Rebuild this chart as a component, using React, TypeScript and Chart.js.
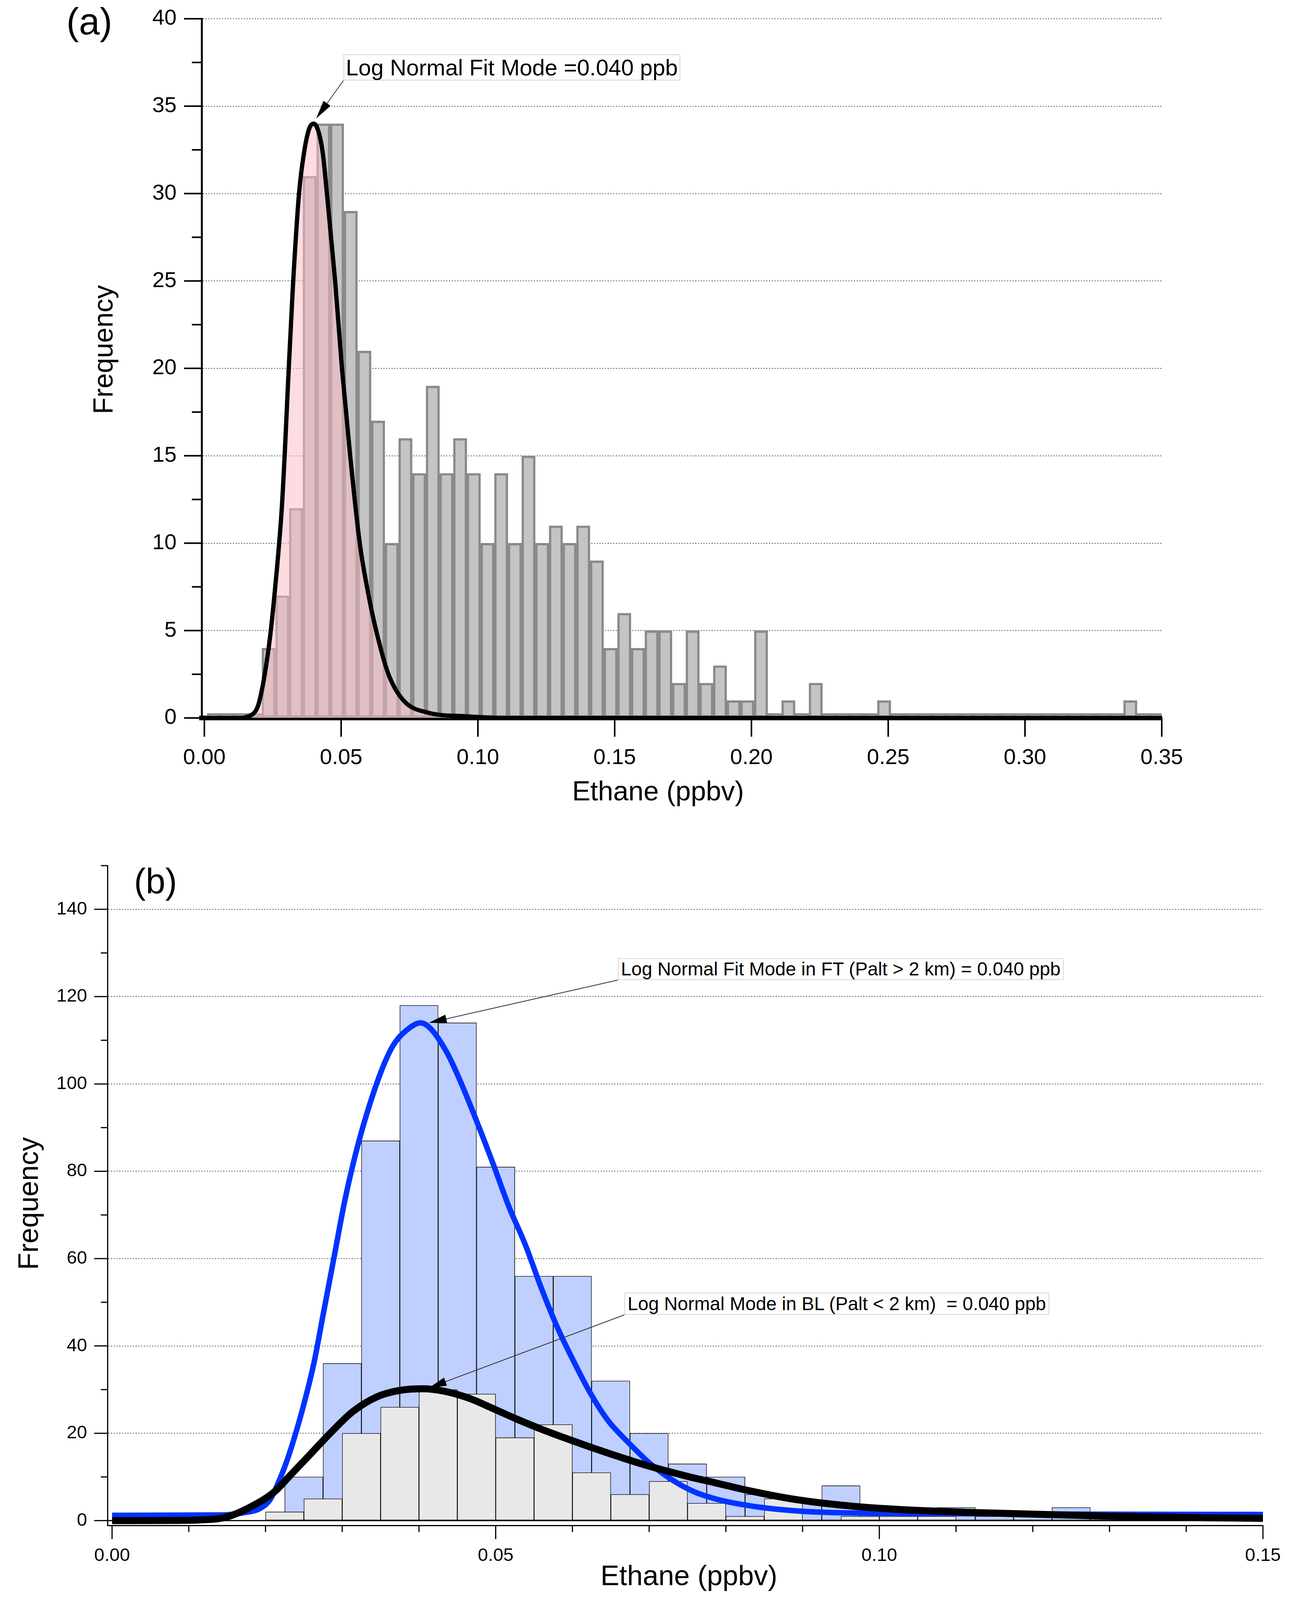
import React, { useEffect, useRef } from 'react';
import { Chart, registerables } from 'chart.js';

Chart.register(...registerables);

const FONT = "'Liberation Sans', Arial, Helvetica, sans-serif";

// ---------------- Panel (a) data ----------------
const binCentersA = [
  0.0035, 0.0085, 0.0135, 0.0185, 0.0235, 0.0285, 0.0335, 0.0385, 0.0435, 0.0485,
  0.0535, 0.0585, 0.0635, 0.0685, 0.0735, 0.0785, 0.0835, 0.0885, 0.0935, 0.0985,
  0.1035, 0.1085, 0.1135, 0.1185, 0.1235, 0.1285, 0.1335, 0.1385, 0.1435, 0.1485,
  0.1535, 0.1585, 0.1635, 0.1685, 0.1735, 0.1785, 0.1835, 0.1885, 0.1935, 0.1985,
  0.2035, 0.2085, 0.2135, 0.2185, 0.2235, 0.2285, 0.2335, 0.2385, 0.2435, 0.2485,
  0.2535, 0.2585, 0.2635, 0.2685, 0.2735, 0.2785, 0.2835, 0.2885, 0.2935, 0.2985,
  0.3035, 0.3085, 0.3135, 0.3185, 0.3235, 0.3285, 0.3335, 0.3385, 0.3435, 0.3485,
];
const countsA = [
  0, 0, 0, 0, 4, 7, 12, 31, 34, 34,
  29, 21, 17, 10, 16, 14, 19, 14, 16, 14,
  10, 14, 10, 15, 10, 11, 10, 11, 9, 4,
  6, 4, 5, 5, 2, 5, 2, 3, 1, 1,
  5, 0, 1, 0, 2, 0, 0, 0, 0, 1,
  0, 0, 0, 0, 0, 0, 0, 0, 0, 0,
  0, 0, 0, 0, 0, 0, 0, 1, 0, 0,
];
const fitXA = [0, 0.012, 0.0175, 0.02, 0.0235, 0.0256, 0.0283, 0.0295, 0.0306, 0.0323, 0.0346, 0.0365, 0.0383, 0.04, 0.0418, 0.0433, 0.0448, 0.0478, 0.0503, 0.0533, 0.0568, 0.0598, 0.0628, 0.0673, 0.0728, 0.0818, 0.095, 0.11, 0.35];
const fitYA = [0, 0, 0.2, 0.9, 4.0, 7.0, 12.0, 15.5, 19.2, 24.5, 30.0, 32.4, 33.7, 34.0, 33.5, 32.3, 30.0, 25.0, 20.0, 15.0, 10.0, 7.2, 5.0, 2.5, 1.0, 0.3, 0.1, 0, 0];
const xTicksA = [0, 0.05, 0.1, 0.15, 0.2, 0.25, 0.3, 0.35];
const xTickLabelsA = ['0.00', '0.05', '0.10', '0.15', '0.20', '0.25', '0.30', '0.35'];
const yTicksA = [0, 5, 10, 15, 20, 25, 30, 35, 40];
const yTickLabelsA = ['0', '5', '10', '15', '20', '25', '30', '35', '40'];
const yMinorA = [2.5, 7.5, 12.5, 17.5, 22.5, 27.5, 32.5, 37.5];

// ---------------- Panel (b) data ----------------
const binCentersFT = [0.025, 0.03, 0.035, 0.04, 0.045, 0.05, 0.055, 0.06, 0.065, 0.07, 0.075, 0.08, 0.085, 0.09, 0.095, 0.1, 0.105, 0.11, 0.115, 0.12, 0.125, 0.13, 0.135, 0.14, 0.145, 0.15];
const countsFT = [10, 36, 87, 118, 114, 81, 56, 56, 32, 20, 13, 10, 6, 4, 8, 3, 1, 3, 1, 1, 3, 1, 1, 1, 2, 1];
const binCentersBL = [0.0225, 0.0275, 0.0325, 0.0375, 0.0425, 0.0475, 0.0525, 0.0575, 0.0625, 0.0675, 0.0725, 0.0775, 0.0825, 0.0875, 0.0925, 0.0975, 0.1025, 0.1075, 0.1125, 0.1175, 0.1225, 0.1275, 0.1325, 0.1375, 0.1425, 0.1475];
const countsBL = [2, 5, 20, 26, 30, 29, 19, 22, 11, 6, 9, 4, 1, 5, 0, 1, 1, 1, 0, 0, 0, 0, 0, 0, 0, 0];
const fitXFT = [0, 0.0145, 0.0175, 0.0192, 0.0206, 0.0215, 0.0225, 0.0235, 0.0249, 0.0263, 0.0276, 0.0289, 0.0303, 0.0316, 0.033, 0.0351, 0.0367, 0.0389, 0.0402, 0.0415, 0.0437, 0.0453, 0.0474, 0.0496, 0.0517, 0.0539, 0.056, 0.0581, 0.0603, 0.0624, 0.0646, 0.0675, 0.0703, 0.0732, 0.076, 0.0788, 0.0817, 0.0851, 0.0902, 0.0959, 0.1073, 0.1187, 0.15];
const fitYFT = [1.2, 1.3, 1.9, 2.7, 4.8, 8.0, 12.3, 17.5, 26, 36, 48, 60, 73, 83, 92, 103, 109, 113, 114, 112.7, 107, 101, 92, 82, 72, 63, 53, 44, 36, 29, 23, 17.5, 12.8, 9.1, 6.5, 4.9, 3.8, 2.9, 2.1, 1.76, 1.6, 1.5, 1.4];
const fitXBL = [0, 0.0088, 0.0114, 0.0147, 0.0179, 0.0211, 0.0233, 0.026, 0.0287, 0.0314, 0.0346, 0.0378, 0.0405, 0.0431, 0.0464, 0.0496, 0.0528, 0.056, 0.0592, 0.0624, 0.0656, 0.0688, 0.072, 0.0753, 0.0785, 0.0821, 0.0885, 0.0953, 0.1021, 0.113, 0.13, 0.15];
const fitYBL = [0, 0.05, 0.15, 0.7, 3.0, 6.5, 10.5, 15.5, 20.5, 25.0, 28.4, 29.9, 30.2, 29.7, 28.1, 25.7, 23.2, 20.9, 18.8, 16.8, 14.9, 13.1, 11.5, 10.0, 8.7, 7.2, 5.0, 3.5, 2.6, 1.8, 1.0, 0.5];
const xTicksB = [0, 0.05, 0.1, 0.15];
const xTickLabelsB = ['0.00', '0.05', '0.10', '0.15'];
const xMinorB = [0.01, 0.02, 0.03, 0.04, 0.06, 0.07, 0.08, 0.09, 0.11, 0.12, 0.13, 0.14];
const yTicksB = [0, 20, 40, 60, 80, 100, 120, 140];
const yTickLabelsB = ['0', '20', '40', '60', '80', '100', '120', '140'];
const yMinorB = [10, 30, 50, 70, 90, 110, 130, 150];

type TickOpts = {
  xMajor: number[]; xMinor: number[]; yMajor: number[]; yMinor: number[];
  xMajorLen: number; xMinorLen: number; yMajorLen: number; yMinorLen: number;
  width: number; zeroLine?: number;
};

function axisTicksPlugin(o: TickOpts) {
  return {
    id: 'axisTicks',
    beforeDatasetsDraw(chart: any) {
      if (!o.zeroLine) return;
      const { ctx, chartArea, scales } = chart;
      const y = scales.y.getPixelForValue(0);
      ctx.save();
      ctx.strokeStyle = '#000';
      ctx.lineWidth = o.zeroLine;
      ctx.beginPath();
      ctx.moveTo(chartArea.left, y);
      ctx.lineTo(chartArea.right, y);
      ctx.stroke();
      ctx.restore();
    },
    afterDraw(chart: any) {
      const { ctx, chartArea, scales } = chart;
      ctx.save();
      ctx.strokeStyle = '#000';
      ctx.lineWidth = o.width;
      ctx.lineCap = 'butt';
      const seg = (x1: number, y1: number, x2: number, y2: number) => {
        ctx.beginPath();
        ctx.moveTo(x1, y1);
        ctx.lineTo(x2, y2);
        ctx.stroke();
      };
      o.xMajor.forEach((v) => {
        const x = scales.x.getPixelForValue(v);
        seg(x, chartArea.bottom, x, chartArea.bottom + o.xMajorLen);
      });
      o.xMinor.forEach((v) => {
        const x = scales.x.getPixelForValue(v);
        seg(x, chartArea.bottom, x, chartArea.bottom + o.xMinorLen);
      });
      o.yMajor.forEach((v) => {
        const y = scales.y.getPixelForValue(v);
        seg(chartArea.left, y, chartArea.left - o.yMajorLen, y);
      });
      o.yMinor.forEach((v) => {
        const y = scales.y.getPixelForValue(v);
        seg(chartArea.left, y, chartArea.left - o.yMinorLen, y);
      });
      ctx.restore();
    },
  };
}

type ArrowSpec = { from: [number, number]; datasetIndex: number; dx: number; dy: number; head: number; half: number };

function arrowPlugin(arrows: ArrowSpec[]) {
  return {
    id: 'arrows',
    afterDatasetsDraw(chart: any) {
      const { ctx } = chart;
      arrows.forEach((a) => {
        const meta = chart.getDatasetMeta(a.datasetIndex);
        const data = chart.data.datasets[a.datasetIndex].data as { x: number; y: number }[];
        let best = data[0];
        data.forEach((p) => { if (p.y > best.y) best = p; });
        const xs = chart.scales[meta.xAxisID];
        const ys = chart.scales[meta.yAxisID];
        const tx = xs.getPixelForValue(best.x) + a.dx;
        const ty = ys.getPixelForValue(best.y) + a.dy;
        const [fx, fy] = a.from;
        const ang = Math.atan2(ty - fy, tx - fx);
        const bx = tx - a.head * Math.cos(ang);
        const by = ty - a.head * Math.sin(ang);
        ctx.save();
        ctx.strokeStyle = '#333';
        ctx.lineWidth = 2;
        ctx.beginPath();
        ctx.moveTo(fx, fy);
        ctx.lineTo(bx, by);
        ctx.stroke();
        ctx.fillStyle = '#000';
        ctx.beginPath();
        ctx.moveTo(tx, ty);
        ctx.lineTo(bx + a.half * Math.sin(ang), by - a.half * Math.cos(ang));
        ctx.lineTo(bx - a.half * Math.sin(ang), by + a.half * Math.cos(ang));
        ctx.closePath();
        ctx.fill();
        ctx.restore();
      });
    },
  };
}

const gridColor = (c: any) => (c.tick && c.tick.value === 0 ? 'rgba(0,0,0,0)' : '#5a5a5a');

const fixY = (w: number) => (s: any) => {
  s.width = w;
  s.paddingTop = 0;
  s.paddingBottom = 0;
  s.paddingLeft = 0;
  s.paddingRight = 0;
};
const fixX = (h: number) => (s: any) => {
  s.height = h;
  s.paddingTop = 0;
  s.paddingBottom = 0;
  s.paddingLeft = 0;
  s.paddingRight = 0;
};

function configA(): any {
  return {
    type: 'bar',
    data: {
      datasets: [
        {
          type: 'bar',
          label: 'Ethane',
          data: binCentersA.map((x, i) => ({ x, y: countsA[i] })),
          backgroundColor: '#c4c4c4',
          borderColor: '#8a8a8a',
          borderWidth: 6,
          borderSkipped: false,
          barPercentage: 1,
          categoryPercentage: 1,
          minBarLength: 12,
          grouped: false,
          clip: 0,
          order: 2,
        },
        {
          type: 'line',
          label: 'Log Normal Fit',
          data: fitXA.map((x, i) => ({ x, y: fitYA[i] })),
          borderColor: '#000',
          borderWidth: 11,
          pointRadius: 0,
          fill: 'origin',
          backgroundColor: 'rgba(250,188,196,0.52)',
          cubicInterpolationMode: 'monotone',
          order: 1,
        },
      ],
    },
    options: {
      responsive: false,
      animation: false,
      devicePixelRatio: 1,
      events: [],
      layout: { padding: { left: 0, top: 48, right: 341, bottom: 0 } },
      plugins: { legend: { display: false }, tooltip: { enabled: false } },
      scales: {
        x: {
          type: 'linear', min: -0.001, max: 0.35, offset: false,
          grid: { display: false, offset: false, drawTicks: false },
          border: { display: true, color: '#000', width: 12 },
          ticks: {
            autoSkip: false, maxRotation: 0, minRotation: 0, padding: 69, color: '#000',
            font: { family: FONT, size: 56 },
            callback: (_v: any, i: number) => xTickLabelsA[i] ?? '',
          },
          afterBuildTicks: (s: any) => { s.ticks = xTicksA.map((v) => ({ value: v })); },
          afterFit: fixX(312),
        },
        y: {
          type: 'linear', min: 0, max: 40,
          grid: { drawTicks: false, color: gridColor, lineWidth: 2 },
          border: { display: true, color: '#000', width: 5, dash: [3, 4] },
          ticks: {
            autoSkip: false, padding: 64, color: '#000',
            font: { family: FONT, size: 56 },
            callback: (_v: any, i: number) => yTickLabelsA[i] ?? '',
          },
          afterBuildTicks: (s: any) => { s.ticks = yTicksA.map((v) => ({ value: v })); },
          afterFit: fixY(516),
        },
      },
    },
    plugins: [
      axisTicksPlugin({
        xMajor: xTicksA, xMinor: [], yMajor: yTicksA, yMinor: yMinorA,
        xMajorLen: 48, xMinorLen: 24, yMajorLen: 45, yMinorLen: 25, width: 4,
      }),
      arrowPlugin([{ from: [879, 206], datasetIndex: 1, dx: 6, dy: -13, head: 48, half: 11 }]),
    ],
  };
}

function configB(): any {
  return {
    type: 'bar',
    data: {
      datasets: [
        {
          type: 'bar',
          label: 'FT (Palt > 2 km)',
          xAxisID: 'x',
          data: binCentersFT.map((x, i) => ({ x, y: countsFT[i] })),
          backgroundColor: '#bfcfff',
          borderColor: '#000',
          borderWidth: 1.5,
          borderSkipped: false,
          barPercentage: 1,
          categoryPercentage: 1,
          grouped: false,
          clip: 0,
          order: 4,
        },
        {
          type: 'bar',
          label: 'BL (Palt < 2 km)',
          xAxisID: 'x2',
          data: binCentersBL.map((x, i) => ({ x, y: countsBL[i] })),
          backgroundColor: '#e8e8e8',
          borderColor: '#000',
          borderWidth: 1.5,
          borderSkipped: false,
          barPercentage: 1,
          categoryPercentage: 1,
          grouped: false,
          clip: 0,
          order: 3,
        },
        {
          type: 'line',
          label: 'Log Normal Fit FT',
          xAxisID: 'x',
          data: fitXFT.map((x, i) => ({ x, y: fitYFT[i] })),
          borderColor: '#0033ff',
          borderWidth: 14,
          pointRadius: 0,
          fill: false,
          cubicInterpolationMode: 'monotone',
          order: 2,
        },
        {
          type: 'line',
          label: 'Log Normal Fit BL',
          xAxisID: 'x',
          data: fitXBL.map((x, i) => ({ x, y: fitYBL[i] })),
          borderColor: '#000',
          borderWidth: 18,
          pointRadius: 0,
          fill: false,
          cubicInterpolationMode: 'monotone',
          order: 1,
        },
      ],
    },
    options: {
      responsive: false,
      animation: false,
      devicePixelRatio: 1,
      events: [],
      layout: { padding: { left: 0, top: 66, right: 82, bottom: 0 } },
      plugins: { legend: { display: false }, tooltip: { enabled: false } },
      scales: {
        x: {
          type: 'linear', min: -0.0006, max: 0.15, offset: false,
          grid: { display: false, offset: false, drawTicks: false },
          border: { display: true, color: '#000', width: 3 },
          ticks: {
            autoSkip: false, maxRotation: 0, minRotation: 0, padding: 50, color: '#000',
            font: { family: FONT, size: 47 },
            callback: (_v: any, i: number) => xTickLabelsB[i] ?? '',
          },
          afterBuildTicks: (s: any) => { s.ticks = xTicksB.map((v) => ({ value: v })); },
          afterFit: fixX(211),
        },
        x2: {
          type: 'linear', min: -0.0006, max: 0.15, offset: false, display: false,
          grid: { display: false, offset: false },
        },
        y: {
          type: 'linear', min: -1.1, max: 150,
          grid: { drawTicks: false, color: gridColor, lineWidth: 2 },
          border: { display: true, color: '#000', width: 3, dash: [3, 4] },
          ticks: {
            autoSkip: false, padding: 52, color: '#000',
            font: { family: FONT, size: 47 },
            callback: (_v: any, i: number) => yTickLabelsB[i] ?? '',
          },
          afterBuildTicks: (s: any) => { s.ticks = yTicksB.map((v) => ({ value: v })); },
          afterFit: fixY(275),
        },
      },
    },
    plugins: [
      axisTicksPlugin({
        xMajor: xTicksB, xMinor: xMinorB, yMajor: yTicksB, yMinor: yMinorB,
        xMajorLen: 35, xMinorLen: 17, yMajorLen: 34, yMinorLen: 17, width: 3, zeroLine: 3,
      }),
      arrowPlugin([
        { from: [1581, 359], datasetIndex: 2, dx: 21, dy: 0, head: 46, half: 11 },
        { from: [1598, 1216], datasetIndex: 3, dx: 15, dy: -2, head: 46, half: 11 },
      ]),
    ],
  };
}

function ChartCanvas({ width, height, top, make }: { width: number; height: number; top: number; make: () => any }) {
  const ref = useRef<HTMLCanvasElement>(null);
  useEffect(() => {
    const chart = new Chart(ref.current as HTMLCanvasElement, make());
    return () => chart.destroy();
  }, []);
  return (
    <canvas
      ref={ref}
      width={width}
      height={height}
      style={{ position: 'absolute', left: 0, top, width, height }}
    />
  );
}

const abs = (s: React.CSSProperties): React.CSSProperties => ({ position: 'absolute', whiteSpace: 'pre', ...s });

export default function App() {
  return (
    <div
      style={{
        position: 'absolute', left: 0, top: 0, width: 3314, height: 4116,
        background: '#fff', overflow: 'hidden', fontFamily: FONT, color: '#000',
      }}
    >
      <ChartCanvas width={3314} height={2150} top={0} make={configA} />
      <ChartCanvas width={3314} height={1966} top={2150} make={configB} />

      {/* Panel (a) texts */}
      <div style={abs({ left: 170, top: 7, fontSize: 96, lineHeight: 1 })}>(a)</div>
      <div
        style={abs({
          left: 879, top: 139, fontSize: 58, lineHeight: '63px', padding: '0 4px',
          background: '#fff', border: '2px solid #d6d6d6',
        })}
      >
        Log Normal Fit Mode =0.040 ppb
      </div>
      <div
        style={abs({
          left: 264 - 400, top: 895 - 40, width: 800, height: 80, lineHeight: '80px',
          fontSize: 70, textAlign: 'center', transform: 'rotate(-90deg)',
        })}
      >
        Frequency
      </div>
      <div style={abs({ left: 1684 - 500, top: 1990, width: 1000, textAlign: 'center', fontSize: 70, lineHeight: 1 })}>
        Ethane (ppbv)
      </div>

      {/* Panel (b) texts */}
      <div style={abs({ left: 343, top: 2211, fontSize: 90, lineHeight: 1 })}>(b)</div>
      <div
        style={abs({
          left: 1581, top: 2453, fontSize: 48, lineHeight: '52px', padding: '0 6px',
          background: '#fff', border: '2px solid #d6d6d6',
        })}
      >
        Log Normal Fit Mode in FT (Palt &gt; 2 km) = 0.040 ppb
      </div>
      <div
        style={abs({
          left: 1598, top: 3309, fontSize: 48, lineHeight: '53px', padding: '0 6px',
          background: '#fff', border: '2px solid #d6d6d6',
        })}
      >
        {'Log Normal Mode in BL (Palt < 2 km)  = 0.040 ppb'}
      </div>
      <div
        style={abs({
          left: 72 - 400, top: 3081 - 40, width: 800, height: 80, lineHeight: '80px',
          fontSize: 72, textAlign: 'center', transform: 'rotate(-90deg)',
        })}
      >
        Frequency
      </div>
      <div style={abs({ left: 1763 - 500, top: 3997, width: 1000, textAlign: 'center', fontSize: 72, lineHeight: 1 })}>
        Ethane (ppbv)
      </div>
    </div>
  );
}
